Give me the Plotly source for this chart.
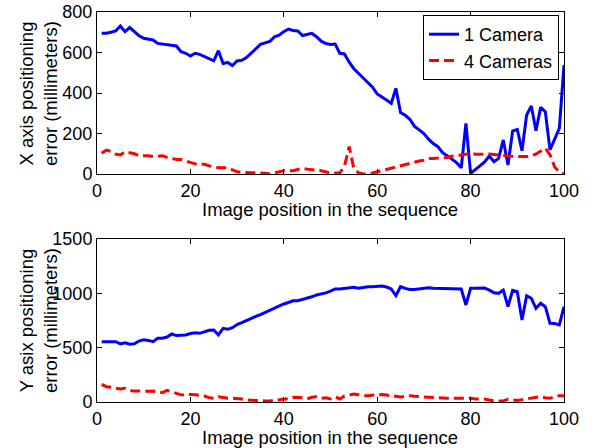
import plotly.graph_objects as go

x_idx = list(range(1, 101))

top_one_camera = [
    695, 695, 700, 706, 731, 703, 723, 703, 683, 670,
    666, 662, 645, 642, 637, 633, 632, 604, 596, 583,
    596, 591, 580, 566, 559, 609, 546, 551, 535, 558,
    562, 575, 595, 618, 640, 648, 655, 678, 686, 703,
    716, 709, 706, 684, 688, 695, 678, 656, 644, 640,
    642, 596, 593, 552, 520, 497, 476, 448, 429, 395,
    378, 365, 349, 423, 303, 290, 270, 235, 218, 200,
    172, 150, 135, 105, 90, 72, 56, 31, 250, 3,
    20, 40, 60, 89, 61, 77, 168, 44, 212, 220,
    115, 291, 336, 214, 329, 308, 119, 168, 225, 538,
]

top_four_cameras = [
    102, 118, 112, 98, 94, 110, 105, 100, 90, 90,
    90, 86, 88, 90, 82, 76, 72, 72, 64, 56,
    50, 48, 48, 40, 36, 31, 31, 31, 20, 11,
    8, 6, 6, 6, 6, 4, 0, 5, 10, 16,
    16, 16, 22, 28, 24, 20, 18, 16, 10, 5,
    5, 6, 40, 135, 26, 6, 0, 0, 5, 11,
    16, 23, 30, 36, 42, 48, 54, 58, 64, 68,
    76, 77, 77, 80, 82, 88, 90, 94, 98, 102,
    98, 97, 98, 99, 96, 94, 92, 89, 88, 86,
    86, 86, 88, 99, 115, 127, 95, 35, 10, 0,
]

bot_one_camera = [
    555, 555, 555, 555, 534, 545, 532, 536, 561, 573,
    567, 555, 586, 586, 598, 626, 611, 617, 617, 630,
    638, 632, 647, 660, 663, 617, 678, 669, 684, 713,
    730, 750, 775, 788, 805, 825, 845, 868, 885, 902,
    916, 932, 932, 942, 952, 968, 985, 994, 1004, 1020,
    1040, 1040, 1045, 1050, 1055, 1048, 1056, 1061, 1061, 1065,
    1068, 1058, 1040, 978, 1061, 1046, 1035, 1035, 1042, 1050,
    1052, 1046, 1046, 1046, 1046, 1046, 1044, 1040, 893, 1046,
    1046, 1048, 1050, 1030, 1006, 1000, 1030, 877, 1027, 1015,
    755, 978, 954, 862, 908, 877, 724, 722, 709, 877,
]

bot_four_cameras = [
    163, 141, 135, 128, 120, 126, 104, 102, 101, 95,
    98, 101, 92, 86, 107, 92, 80, 66, 64, 70,
    66, 60, 55, 40, 34, 49, 40, 34, 34, 34,
    28, 18, 15, 10, 10, 10, 10, 14, 18, 24,
    30, 43, 40, 40, 28, 44, 49, 34, 38, 28,
    49, 28, 55, 65, 74, 66, 58, 58, 60, 66,
    70, 64, 58, 52, 46, 52, 58, 52, 49, 46,
    43, 40, 34, 34, 34, 34, 34, 34, 40, 34,
    28, 28, 28, 18, 10, 10, 10, 24, 22, 15,
    22, 28, 34, 40, 49, 40, 34, 50, 58, 58,
]

x_ticks = [0, 20, 40, 60, 80, 100]
top_y_ticks = [0, 200, 400, 600, 800]
bot_y_ticks = [0, 500, 1000, 1500]

FONT = "Liberation Sans, Arial, sans-serif"
FS = 18.5
W, H = 596, 448

fig = go.Figure()

blue = dict(color="#0000FF", width=3)
red = dict(color="#FF0000", width=3, dash="10px,5px")

fig.add_trace(go.Scatter(x=x_idx, y=top_one_camera, mode="lines", line=blue,
                         name="1 Camera", xaxis="x", yaxis="y"))
fig.add_trace(go.Scatter(x=x_idx, y=top_four_cameras, mode="lines", line=red,
                         name="4 Cameras", xaxis="x", yaxis="y"))
fig.add_trace(go.Scatter(x=x_idx, y=bot_one_camera, mode="lines", line=blue,
                         name="1 Camera", showlegend=False, xaxis="x2", yaxis="y2"))
fig.add_trace(go.Scatter(x=x_idx, y=bot_four_cameras, mode="lines", line=red,
                         name="4 Cameras", showlegend=False, xaxis="x2", yaxis="y2"))

xdom = [97 / W, 564 / W]
top_dom = [1 - 174 / H, 1 - 12 / H]
bot_dom = [1 - 402 / H, 1 - 239 / H]

axis_common = dict(
    showline=True, linecolor="black", linewidth=1, mirror="ticks",
    ticks="inside", ticklen=5, tickcolor="black", showgrid=False, zeroline=False,
    automargin=False,
    tickfont=dict(family=FONT, size=18, color="black"),
)

fig.update_layout(
    width=W, height=H,
    margin=dict(l=0, r=0, t=0, b=0, autoexpand=False),
    paper_bgcolor="white", plot_bgcolor="white",
    font=dict(family=FONT, size=FS, color="black"),
    xaxis=dict(domain=xdom, range=[0, 100], tickvals=x_ticks, anchor="y", **axis_common),
    yaxis=dict(domain=top_dom, range=[0, 800], tickvals=top_y_ticks, anchor="x", **axis_common),
    xaxis2=dict(domain=xdom, range=[0, 100], tickvals=x_ticks, anchor="y2", **axis_common),
    yaxis2=dict(domain=bot_dom, range=[0, 1500], tickvals=bot_y_ticks, anchor="x2", **axis_common),
    legend=dict(
        x=559 / W, y=1 - 15 / H, xanchor="right", yanchor="top",
        bgcolor="white", bordercolor="black", borderwidth=1,
        font=dict(family=FONT, size=18, color="black"),
        tracegroupgap=0, itemwidth=30,
    ),
    showlegend=True,
)

xtitle = "Image position in the sequence"
annotations = [
    dict(text=xtitle, x=(xdom[0] + xdom[1]) / 2, y=1 - 209 / H, xref="paper", yref="paper",
         xanchor="center", yanchor="middle", showarrow=False,
         font=dict(family=FONT, size=FS, color="black")),
    dict(text=xtitle, x=(xdom[0] + xdom[1]) / 2, y=1 - 437 / H, xref="paper", yref="paper",
         xanchor="center", yanchor="middle", showarrow=False,
         font=dict(family=FONT, size=FS, color="black")),
    dict(text="X axis positioning<br>error (millimeters)", x=38 / W, y=1 - 94 / H,
         xref="paper", yref="paper", xanchor="center", yanchor="middle", textangle=-90,
         showarrow=False, font=dict(family=FONT, size=FS, color="black")),
    dict(text="Y asix positioning<br>error (millimeters)", x=38 / W, y=1 - 321 / H,
         xref="paper", yref="paper", xanchor="center", yanchor="middle", textangle=-90,
         showarrow=False, font=dict(family=FONT, size=FS, color="black")),
]
fig.update_layout(annotations=annotations)

fig.write_html("out.html")
